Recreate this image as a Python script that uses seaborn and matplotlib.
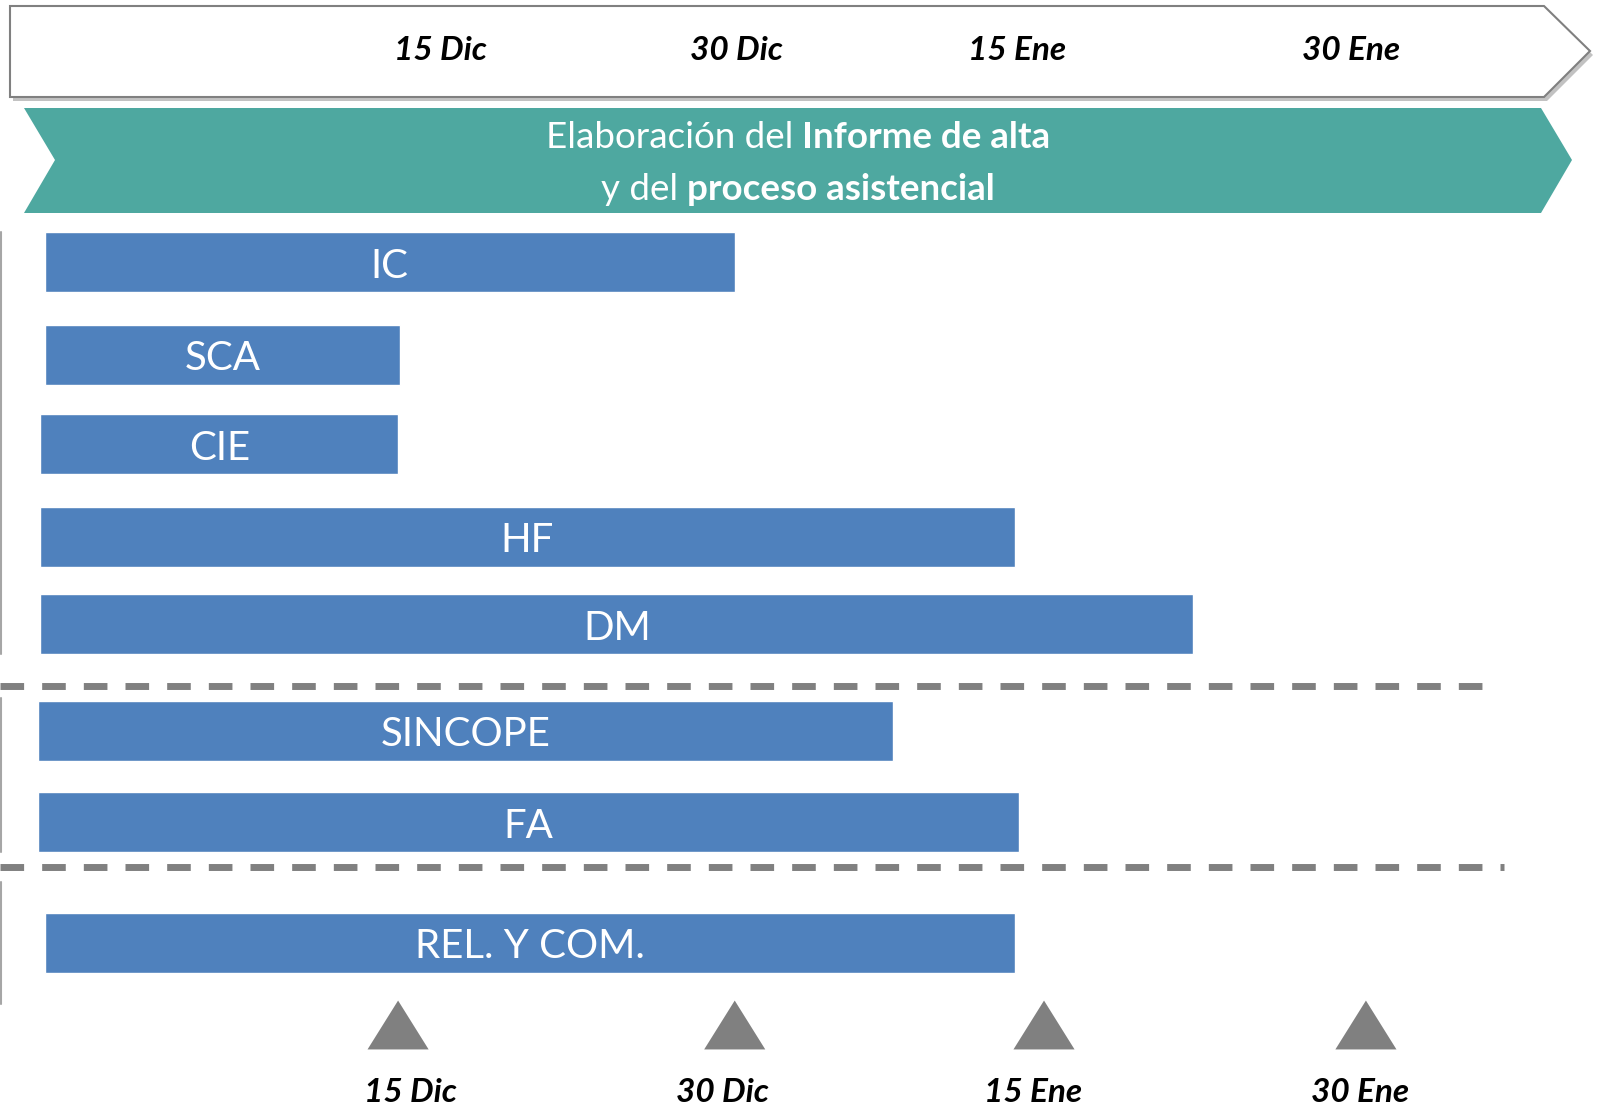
import seaborn as sns
import matplotlib.pyplot as plt
from matplotlib.patches import Polygon

sns.set_theme(style="white")
plt.rcParams['font.family'] = ['Lato', 'DejaVu Sans']

# tareas: inicio y fin en dias desde el 1 de diciembre
tareas = ["IC", "SCA", "CIE", "HF", "DM", "SINCOPE", "FA", "REL. Y COM."]
inicio = [-1.8, -1.8, -2.0, -2.0, -2.0, -2.1, -2.1, -1.8]
fin = [31.0, 15.1, 15.0, 44.3, 52.8, 38.5, 44.5, 44.3]

# hitos del calendario
hitos = ["15 Dic", "30 Dic", "15 Ene", "30 Ene"]
hitos_dia = [15.0, 31.0, 45.7, 61.0]
etiq_sup_dia = [17.0, 31.1, 44.4, 60.3]
etiq_inf_dia = [15.6, 30.4, 45.2, 60.7]

# disposicion vertical (px desde arriba)
fila_y = [262, 355, 444, 537, 624, 731, 822, 943]
alto_barra = 60

azul = "#4F81BD"
verde = "#4EA8A0"
gris = "#808080"

fig = plt.figure(figsize=(15.98, 11.07), dpi=100)

# capa de decoracion en pixeles
deco = fig.add_axes([0, 0, 1, 1])
deco.set_xlim(0, 1598)
deco.set_ylim(1107, 0)
deco.axis("off")

# flecha superior con sombra
flecha = [(10, 6), (1544, 6), (1590, 51), (1544, 97), (10, 97)]
sombra = [(x + 3, y + 4) for x, y in flecha]
deco.add_patch(Polygon(sombra, closed=True, fc="#9a9a9a", ec="none", alpha=0.6))
deco.add_patch(Polygon(flecha, closed=True, fc="white", ec=gris, lw=1.5))

# banda verde
banda = [(24, 108), (1541, 108), (1572, 160), (1541, 213), (24, 213), (55, 160)]
deco.add_patch(Polygon(banda, closed=True, fc=verde, ec="none"))

renderer = fig.canvas.get_renderer()


def linea_mixta(y, normal, negrita, size, xc=798):
    t1 = deco.text(0, y, normal, fontsize=size, color="white", va="center")
    t2 = deco.text(0, y, negrita, fontsize=size, color="white", va="center",
                   weight="bold")
    w1 = t1.get_window_extent(renderer).width
    w2 = t2.get_window_extent(renderer).width
    gap = size * 100 / 72 * 0.25
    x0 = xc - (w1 + gap + w2) / 2
    t1.set_x(x0)
    t2.set_x(x0 + w1 + gap)


linea_mixta(138, "Elaboración del", "Informe de alta", 26.5)
linea_mixta(190, "y del", "proceso asistencial", 26.5)

# lineas verticales izquierdas
for y0, y1 in [(232, 654), (698, 852), (882, 1004)]:
    deco.plot([1, 1], [y0, y1], color="#a6a6a6", lw=1.5)

# separadores discontinuos
for y, x1 in [(686, 1500), (867, 1504)]:
    deco.plot([0, x1], [y, y], color=gris, lw=5, dashes=(3.4, 2.6),
              solid_capstyle="butt", dash_capstyle="butt")

# eje de datos: x en dias, y en px
ax = fig.add_axes([0, 0, 1, 1])
ax.patch.set_alpha(0)
ax.set_xlim(-3.92, 72.03)
ax.set_ylim(1107, 0)
ax.axis("off")

anchos = [f - i for i, f in zip(inicio, fin)]
ax.barh(fila_y, anchos, left=inicio, height=alto_barra, color=azul)
for t, i, f, y in zip(tareas, inicio, fin, fila_y):
    ax.text((i + f) / 2, y + 4, t, color="white", fontsize=29,
            ha="center", va="center")

for h, x in zip(hitos, etiq_sup_dia):
    ax.text(x, 51, h, fontsize=24, weight="bold", style="italic",
            ha="center", va="center", color="black")

tri = [(0, 0.8), (-1, -0.8), (1, -0.8)]
sns.scatterplot(x=hitos_dia, y=[1025] * 4, marker=tri, s=44 ** 2,
                color=gris, edgecolor="none", ax=ax, legend=False)

for h, x in zip(hitos, etiq_inf_dia):
    ax.text(x, 1093, h, fontsize=24, weight="bold", style="italic",
            ha="center", va="center", color="black")

fig.savefig("out.png", dpi=100)
